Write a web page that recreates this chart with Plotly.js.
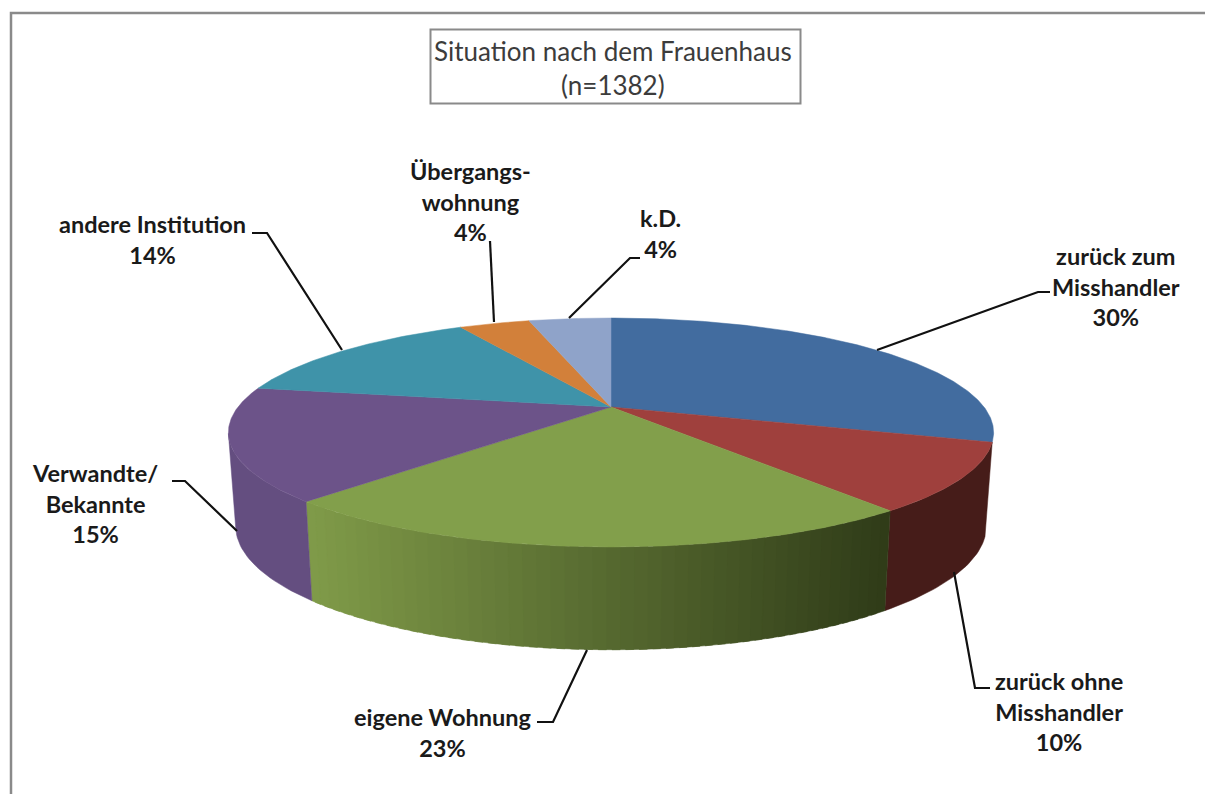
<!DOCTYPE html>
<html><head><meta charset="utf-8">
<script src="https://cdn.plot.ly/plotly-3.0.1.min.js"></script>
<style>html,body{margin:0;padding:0;background:#fff}</style></head>
<body><div id="chart" style="width:1205px;height:794px"></div>
<script>
const categories = ["zurück zum<br>Misshandler","zurück ohne<br>Misshandler","eigene Wohnung","Verwandte/<br>Bekannte","andere Institution","Übergangs-<br>wohnung","k.D."];
const values = [30.0,10.0,23.0,15.0,14.0,3.7,4.3];
const topColors = ["#426c9f","#9f403d","#829f4b","#6c5389","#3f93a9","#d2803a","#8fa3c9"];
const sideLeft  = ["#2c4a70","#461c19","#809b49","#644e80","#3f93a9","#d2803a","#8fa3c9"];
const sideRight = ["#2c4a70","#461c19","#2f3b18","#644e80","#3f93a9","#d2803a","#8fa3c9"];

// pie projection (drawing geometry, not data)
const cx=611, cy=407, A=373, B=108.8, k=0.2227, NX=0.981, YS=1.08, YO=59;
const rad=Math.PI/180;
function warp(t){const d=(t-195*rad)/(55*rad);return t-(5*rad)*Math.exp(-d*d);}
function topPt(t0){const t=warp(t0),u=Math.sin(t),v=-Math.cos(t),d=1-k*v;return [cx+A*u/d,cy+B*v/d];}
function botPt(t){const p=topPt(t);return [cx+NX*(p[0]-cx),YS*p[1]+YO];}
function hex(c){return [1,3,5].map(i=>parseInt(c.substr(i,2),16));}
function mix(a,b,f){const x=hex(a),y=hex(b);return `rgb(${x.map((q,i)=>Math.round(q+(y[i]-q)*f)).join(",")})`;}

const total=values.reduce((a,b)=>a+b,0);
const bounds=[0];values.forEach(v=>bounds.push(bounds[bounds.length-1]+v/total*2*Math.PI));
const traces=[];
function poly(pts,color,w){traces.push({type:"scatter",mode:"lines",x:pts.map(p=>p[0]),y:pts.map(p=>p[1]),fill:"toself",fillcolor:color,line:{color:color,width:w},hoverinfo:"skip",showlegend:false});}
function wall(a,b,color){
  const n=Math.max(2,Math.ceil((b-a)/0.02)),up=[],lo=[];
  for(let j=0;j<=n;j++){const t=a+(b-a)*j/n;up.push(topPt(t));lo.unshift(botPt(t));}
  const pts=up.concat(lo);pts.push(up[0]);
  poly(pts,color,0.5);
}
// side wall: only the slices facing the viewer; the blue and back slices are hidden
[1,2,3].forEach(i=>{
  const a=bounds[i],b=Math.min(bounds[i+1],258*rad);
  if(sideLeft[i]===sideRight[i]){wall(a,b,sideLeft[i]);return;}
  const n=48,step=(b-a)/n,xs=topPt(a)[0],xe=topPt(b)[0];
  for(let j=0;j<n;j++){
    const t0=a+step*j,t1=t0+step;
    const f=(xs-topPt((t0+t1)/2)[0])/(xs-xe);   // 0 at the right end of the slice, 1 at the left end
    wall(t0,Math.min(b,t1+step*0.6),mix(sideRight[i],sideLeft[i],f));
  }
});
// top faces
values.forEach((v,i)=>{
  const a=bounds[i],b=bounds[i+1],pts=[[cx,cy]];
  const n=Math.ceil((b-a)/0.01);
  for(let j=0;j<=n;j++)pts.push(topPt(a+(b-a)*j/n));
  pts.push([cx,cy]);
  poly(pts,topColors[i],0.5);
});

const labelPos=[[1116,286],[1059,711],[442,732],[95,503],[152,239],[470,201],[660,233]];
const annotations=categories.map((c,i)=>({x:labelPos[i][0],y:labelPos[i][1],xref:"x",yref:"y",showarrow:false,align:"center",
  text:"<b>"+c+"<br>"+Math.round(values[i])+"%</b>",font:{family:"Lato, Carlito, sans-serif",size:23.5,color:"#1a1a1a"}}));
annotations.push({x:613,y:68,xref:"x",yref:"y",showarrow:false,align:"center",text:"Situation nach dem Frauenhaus<br>(n=1382)",font:{family:"Lato, sans-serif",size:26,color:"#3c3c3c"}});
const leaders=[[[877,350],[1038,292],[1050,292]],[[954,572],[975,688],[990,688]],[[587,650],[553,722],[537,722]],[[237,531],[185,481],[172,481]],[[342,350],[267,233],[252,233]],[[494,322],[490,241],[490,241]],[[569,318],[630,258],[640,258]]];
const shapes=leaders.map(l=>({type:"path",xref:"x",yref:"y",path:"M"+l.map(p=>p.join(",")).join("L"),line:{color:"#111",width:2.2}}));
shapes.push({type:"rect",xref:"x",yref:"y",x0:430.5,y0:29.5,x1:800.5,y1:103.5,line:{color:"#8a8a8a",width:2},fillcolor:"rgba(255,255,255,0)"});
shapes.push({type:"path",xref:"x",yref:"y",path:"M11,794L11,13L1205,13",line:{color:"#8a8a8a",width:2.5}});

Plotly.newPlot("chart",traces,{width:1205,height:794,margin:{l:0,r:0,t:0,b:0},paper_bgcolor:"#fff",plot_bgcolor:"#fff",showlegend:false,
 xaxis:{range:[0,1205],visible:false,fixedrange:true},yaxis:{range:[794,0],visible:false,fixedrange:true},annotations,shapes},{staticPlot:true});
</script></body></html>
